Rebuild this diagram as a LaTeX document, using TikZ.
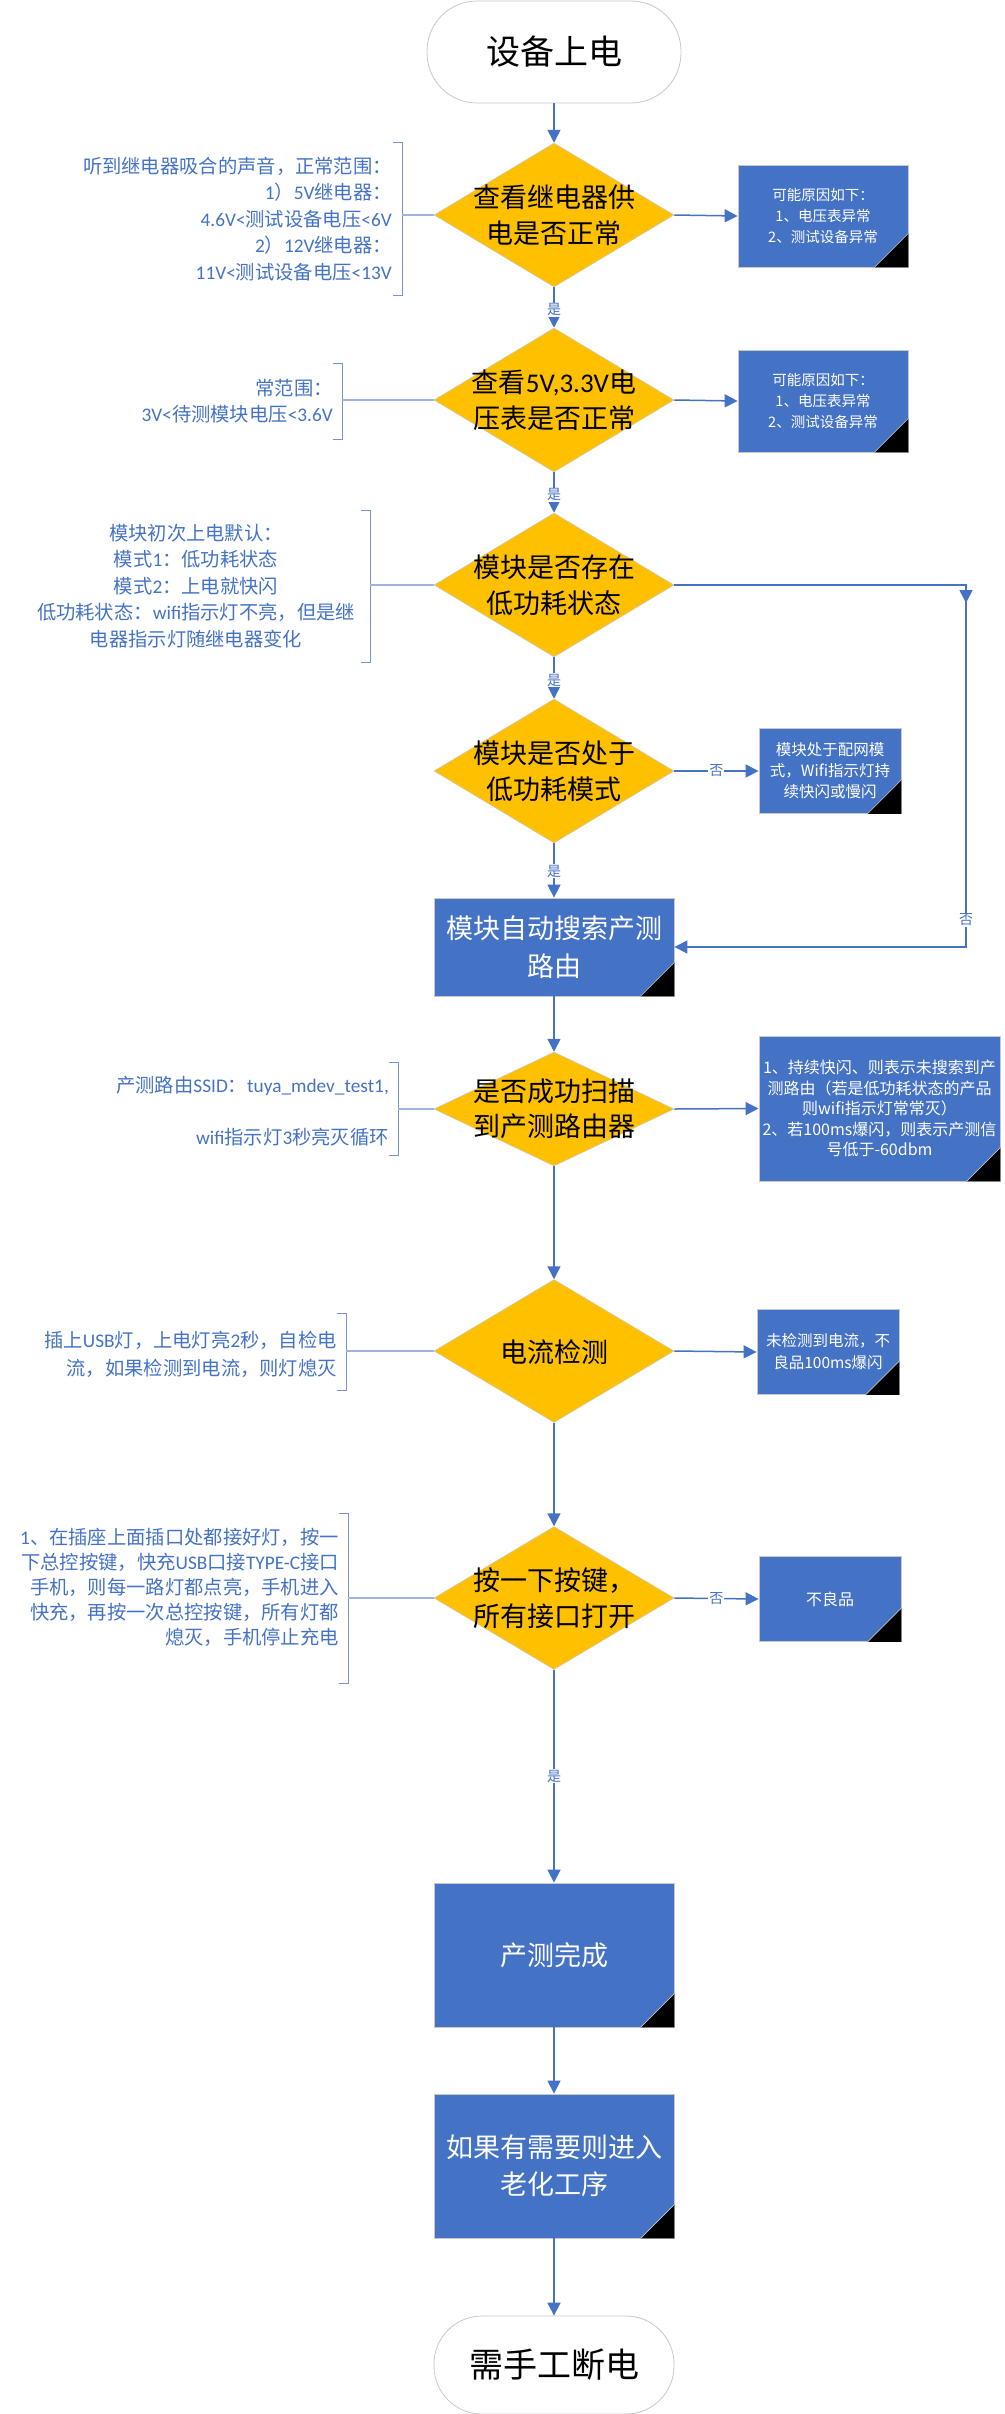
\documentclass[tikz,border=0pt]{standalone}
\usepackage{fontspec}
\setmainfont{Noto Sans CJK SC}
\newfontfamily\latf{Carlito}
\usetikzlibrary{shapes.geometric,arrows.meta}
\definecolor{boxblue}{HTML}{4472C4}
\definecolor{dyellow}{HTML}{FFC000}
\definecolor{brk}{HTML}{7393D3}
\definecolor{brkl}{HTML}{9DB4E0}
\definecolor{edgegray}{HTML}{C8C8C8}
\newcommand{\myfs}[2]{\fontsize{#1pt}{#2pt}\selectfont}
\newcommand{\lat}[1]{{\latf #1}}
\newcommand{\cornertri}[1]{%
  \fill[black] ([xshift=-34pt]#1.south east) -- (#1.south east) -- ([yshift=34pt]#1.south east) -- cycle;
  \draw[edgegray,line width=0.6pt] ([xshift=-34pt]#1.south east) -- ([yshift=34pt]#1.south east);}
\begin{document}
\begin{tikzpicture}[x=1pt,y=-1pt,
  term/.style={draw=edgegray, line width=0.8pt, fill=white, inner sep=0pt, minimum width=#1, font=\myfs{34}{40}},
  dia/.style={diamond, draw=edgegray, line width=0.5pt, fill=dyellow, inner sep=0pt, minimum width=240pt, minimum height=#1},
  dtext/.style={inner sep=0pt, align=center, text=black, font=\myfs{27}{36}},
  proc/.style={rectangle, draw=edgegray, line width=0.8pt, fill=boxblue, text=white, inner sep=0pt, align=center},
  conn/.style={draw=boxblue, line width=1.5pt, -{Triangle[length=13pt,width=13pt]}},
  elab/.style={fill=white, text=boxblue, inner sep=1pt, font=\myfs{14}{14}},
  brack/.style={draw=brk, line width=1pt},
  brline/.style={draw=brkl, line width=1.2pt},
  btext/.style={text=boxblue, inner sep=0pt, font=\myfs{19.3}{26.5}}
]
\useasboundingbox (0,0) rectangle (1004,2414);

% ---------- main column ----------
\node[term=254pt, minimum height=102pt, rounded corners=50pt] (t1) at (554,52) {设备上电};
\node[dia=144pt] (d1) at (554,215) {};
\node[dtext] (d1t) at (554,215) {查看继电器供\\电是否正常};
\node[dia=144pt] (d2) at (554,400) {};
\node[dtext] (d2t) at (554,400) {查看\lat{5V,3.3V}电\\压表是否正常};
\node[dia=144pt] (d3) at (554,585) {};
\node[dtext] (d3t) at (554,585) {模块是否存在\\低功耗状态};
\node[dia=144pt] (d4) at (554,771) {};
\node[dtext] (d4t) at (554,771) {模块是否处于\\低功耗模式};
\node[proc, minimum width=240pt, minimum height=98pt, font=\myfs{27}{38}] (p4) at (554,947) {模块自动搜索产测\\路由};
\node[dia=114pt] (d5) at (554,1109) {};
\node[dtext, font=\myfs{27}{35}] (d5t) at (554,1109) {是否成功扫描\\到产测路由器};
\node[dia=143pt] (d6) at (554,1351) {};
\node[dtext] (d6t) at (554,1352) {电流检测};
\node[dia=143pt] (d7) at (554,1598) {};
\node[dtext] (d7t) at (554,1598) {按一下按键，\\所有接口打开};
\node[proc, minimum width=240pt, minimum height=144pt, font=\myfs{27}{38}] (p8) at (554,1955) {产测完成};
\node[proc, minimum width=240pt, minimum height=144pt, font=\myfs{27}{37}] (p9) at (554,2166) {如果有需要则进入\\老化工序};
\node[term=240pt, minimum height=98pt, rounded corners=48pt] (t2) at (554,2365) {需手工断电};

\cornertri{p4}
\cornertri{p8}
\cornertri{p9}

% ---------- right boxes ----------
\node[proc, minimum width=170pt, minimum height=102pt, font=\myfs{14.5}{21}] (b1) at (823,216) {可能原因如下：\\1、电压表异常\\2、测试设备异常};
\node[proc, minimum width=170pt, minimum height=102pt, font=\myfs{14.5}{21}] (b2) at (823,401) {可能原因如下：\\1、电压表异常\\2、测试设备异常};
\node[proc, minimum width=142pt, minimum height=85pt, font=\myfs{15.5}{21}] (b3) at (830,771) {模块处于配网模\\式，Wifi指示灯持\\续快闪或慢闪};
\node[proc, minimum width=241pt, minimum height=145pt, font=\myfs{16}{20.5}] (b5) at (879.5,1108.5) {1、持续快闪、则表示未搜索到产\\测路由（若是低功耗状态的产品\\则wifi指示灯常常灭）\\2、若100ms爆闪，则表示产测信\\号低于-60dbm};
\node[proc, minimum width=142pt, minimum height=85pt, font=\myfs{15.5}{22}] (b6) at (828,1352) {未检测到电流，不\\良品100ms爆闪};
\node[proc, minimum width=142pt, minimum height=85pt, font=\myfs{16}{20}] (b7) at (830,1599) {不良品};
\cornertri{b1}
\cornertri{b2}
\cornertri{b3}
\cornertri{b5}
\cornertri{b6}
\cornertri{b7}

% ---------- connectors ----------
\draw[conn] (t1.south) -- (d1.north);
\draw[conn] (d1.south) -- node[elab,pos=0.56]{是} (d2.north);
\draw[conn] (d2.south) -- node[elab,pos=0.56]{是} (d3.north);
\draw[conn] (d3.south) -- node[elab,pos=0.55]{是} (d4.north);
\draw[conn] (d4.south) -- node[elab,pos=0.51]{是} (p4.north);
\draw[conn] (p4.south) -- (d5.north);
\draw[conn] (d5.south) -- (d6.north);
\draw[conn] (d6.south) -- (d7.north);
\draw[conn] (d7.south) -- node[elab,pos=0.5]{是} (p8.north);
\draw[conn] (p8.south) -- (p9.north);
\draw[conn] (p9.south) -- (t2.north);

\draw[conn] (d1.east) -- (b1.west);
\draw[conn] (d2.east) -- (b2.west);
\draw[conn] (d4.east) -- node[elab,pos=0.5]{否} (b3.west);
\draw[conn] (d5.east) -- (b5.west);
\draw[conn] (d6.east) -- (b6.west);
\draw[conn] (d7.east) -- node[elab,pos=0.5]{否} (b7.west);

\coordinate (lc1) at (966,585);
\coordinate (lc2) at (966,947);
\draw[conn] (d3.east) -- (lc1) -- node[elab,pos=0.925]{否} (lc2) -- (p4.east);
\draw[conn] (lc1) -- ++(0,18);

% ---------- brackets ----------
\coordinate (br1t) at (402,142); \coordinate (br1b) at (402,295); \coordinate (br1m) at (402,215);
\draw[brack] ([xshift=-9pt]br1t) -- (br1t) -- (br1b) -- ([xshift=-9pt]br1b);
\draw[brline] (br1m) -- (d1.west);
\node[btext, anchor=east, align=right] (n1) at (392,219) {听到继电器吸合的声音，正常范围：\\\lat{1}）\lat{5V}继电器：\\\lat{4.6V<}测试设备电压\lat{<6V}\\\lat{2}）\lat{12V}继电器：\\\lat{11V<}测试设备电压\lat{<13V}};

\coordinate (br2t) at (342,363); \coordinate (br2b) at (342,439); \coordinate (br2m) at (342,400);
\draw[brack] ([xshift=-9pt]br2t) -- (br2t) -- (br2b) -- ([xshift=-9pt]br2b);
\draw[brline] (br2m) -- (d2.west);
\node[btext, anchor=east, align=right] (n2) at (333,401) {常范围：\\\lat{3V<}待测模块电压\lat{<3.6V}};

\coordinate (br3t) at (370,510); \coordinate (br3b) at (370,662); \coordinate (br3m) at (370,585);
\draw[brack] ([xshift=-9pt]br3t) -- (br3t) -- (br3b) -- ([xshift=-9pt]br3b);
\draw[brline] (br3m) -- (d3.west);
\node[btext, align=center] (n3) at (196,586) {模块初次上电默认：\\模式\lat{1}：低功耗状态\\模式\lat{2}：上电就快闪\\低功耗状态：\lat{wifi}指示灯不亮，但是继\\电器指示灯随继电器变化};

\coordinate (br5t) at (398,1062); \coordinate (br5b) at (398,1155); \coordinate (br5m) at (398,1109);
\draw[brack] ([xshift=-9pt]br5t) -- (br5t) -- (br5b) -- ([xshift=-9pt]br5b);
\draw[brline] (br5m) -- (d5.west);
\node[btext, anchor=east, align=right] (n5) at (389,1111) {产测路由\lat{SSID}：\lat{tuya\_mdev\_test1,}\\[26pt]\lat{wifi}指示灯\lat{3}秒亮灭循环};

\coordinate (br6t) at (346,1313); \coordinate (br6b) at (346,1390); \coordinate (br6m) at (346,1351);
\draw[brack] ([xshift=-9pt]br6t) -- (br6t) -- (br6b) -- ([xshift=-9pt]br6b);
\draw[brline] (br6m) -- (d6.west);
\node[btext, anchor=east, align=right, font=\myfs{19.3}{28}] (n6) at (337,1354) {插上\lat{USB}灯，上电灯亮\lat{2}秒，自检电\\流，如果检测到电流，则灯熄灭};

\coordinate (br7t) at (348,1513); \coordinate (br7b) at (348,1683); \coordinate (br7m) at (348,1598);
\draw[brack] ([xshift=-9pt]br7t) -- (br7t) -- (br7b) -- ([xshift=-9pt]br7b);
\draw[brline] (br7m) -- (d7.west);
\node[btext, anchor=east, align=right, font=\myfs{19.3}{25}] (n7) at (339,1587) {\lat{1}、在插座上面插口处都接好灯，按一\\下总控按键，快充\lat{USB}口接\lat{TYPE-C}接口\\手机，则每一路灯都点亮，手机进入\\快充，再按一次总控按键，所有灯都\\熄灭，手机停止充电};
\end{tikzpicture}
\end{document}
